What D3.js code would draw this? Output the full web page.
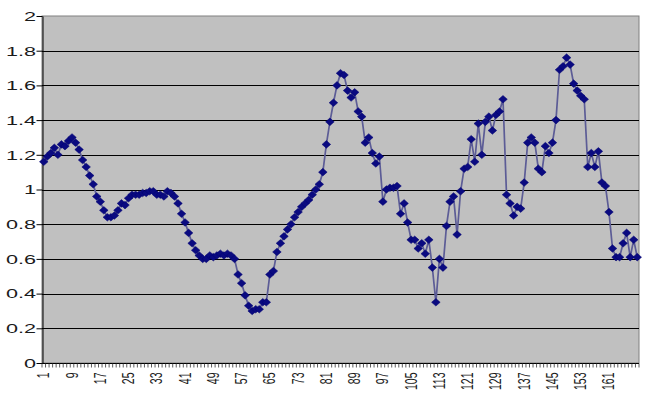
<!DOCTYPE html>
<html>
<head>
<meta charset="utf-8">
<script src="https://cdn.jsdelivr.net/npm/d3@7"></script>
<style>
  body { margin: 0; background: #fff; }
  svg { display: block; font-family: "Liberation Sans", Arial, sans-serif; }
</style>
</head>
<body>
<div id="chart"></div>
<script>
// values, one per category (1..169)
var values = [
  1.16, 1.19, 1.21, 1.24, 1.20, 1.26, 1.25, 1.28, 1.30, 1.27,
  1.23, 1.17, 1.13, 1.08, 1.03, 0.96, 0.93, 0.88, 0.84, 0.84,
  0.85, 0.88, 0.92, 0.91, 0.95, 0.97, 0.97, 0.97, 0.98, 0.98,
  0.99, 0.99, 0.97, 0.97, 0.96, 0.99, 0.98, 0.96, 0.92, 0.86,
  0.81, 0.75, 0.69, 0.65, 0.62, 0.60, 0.60, 0.62, 0.61, 0.62,
  0.63, 0.62, 0.63, 0.62, 0.60, 0.51, 0.46, 0.39, 0.33, 0.30,
  0.31, 0.31, 0.35, 0.35, 0.51, 0.53, 0.64, 0.69, 0.73, 0.77,
  0.80, 0.84, 0.87, 0.90, 0.92, 0.94, 0.97, 1.00, 1.03, 1.10,
  1.26, 1.39, 1.50, 1.60, 1.67, 1.66, 1.57, 1.53, 1.56, 1.45,
  1.42, 1.27, 1.30, 1.21, 1.15, 1.19, 0.93, 1.00, 1.01, 1.01,
  1.02, 0.86, 0.92, 0.81, 0.71, 0.71, 0.66, 0.69, 0.63, 0.71,
  0.55, 0.35, 0.60, 0.55, 0.79, 0.93, 0.96, 0.74, 0.99, 1.12,
  1.13, 1.29, 1.16, 1.38, 1.20, 1.39, 1.42, 1.34, 1.43, 1.45,
  1.52, 0.97, 0.92, 0.85, 0.90, 0.89, 1.04, 1.27, 1.30, 1.27,
  1.12, 1.10, 1.25, 1.21, 1.27, 1.40, 1.69, 1.71, 1.76, 1.72,
  1.61, 1.57, 1.54, 1.52, 1.13, 1.21, 1.13, 1.22, 1.04, 1.02,
  0.87, 0.66, 0.61, 0.61, 0.69, 0.75, 0.61, 0.71, 0.61
];
var categories = values.map(function(d, i) { return i + 1; });
var xTickLabels = [1, 9, 17, 25, 33, 41, 49, 57, 65, 73, 81, 89, 97, 105, 113, 121, 129, 137, 145, 153, 161];
var yTicks = [0, 0.2, 0.4, 0.6, 0.8, 1, 1.2, 1.4, 1.6, 1.8, 2];

// set the dimensions
var W = 651, H = 399
  , margin = {top: 16, right: 12, bottom: 36, left: 42}
  , width = W - margin.left - margin.right
  , height = H - margin.top - margin.bottom;

var svg = d3.select("#chart").append("svg")
    .attr("width", W)
    .attr("height", H)
  .append("g")
    .attr("transform", "translate(" + margin.left + "," + margin.top + ")");

var x = d3.scaleBand().domain(categories).range([0, width]).padding(0);
var y = d3.scaleLinear().domain([0, 2]).range([height, 0]);
var cx = function(c) { return x(c) + x.bandwidth() / 2; };

// plot area
svg.append("rect")
    .attr("width", width)
    .attr("height", height)
    .attr("fill", "#c0c0c0")
    .attr("stroke", "#808080");

// gridlines
svg.append("g")
  .selectAll("line")
  .data(yTicks.filter(function(d) { return d > 0 && d < 2; }))
  .enter().append("line")
    .attr("x1", 0)
    .attr("x2", width)
    .attr("y1", function(d) { return Math.round(y(d)) + 0.5; })
    .attr("y2", function(d) { return Math.round(y(d)) + 0.5; })
    .attr("stroke", "#000")
    .attr("stroke-width", 1);

// y axis
var yAxis = svg.append("g")
    .attr("transform", "translate(0.5,0)")
    .call(d3.axisLeft(y).tickValues(yTicks).tickSize(6).tickSizeOuter(0)
      .tickFormat(function(d) { return String(d); }));
yAxis.select(".domain").attr("stroke", "#000");
yAxis.selectAll(".tick line").attr("stroke", "#000");
yAxis.selectAll("text")
    .attr("x", -4)
    .attr("transform", "scale(1.6,1)")
    .attr("font-size", 13.5)
    .attr("fill", "#1a1a1a");

// x axis: small tick at every category boundary
var xAxis = svg.append("g")
    .attr("transform", "translate(0," + (height + 0.5) + ")");
xAxis.append("line")
    .attr("x1", 0).attr("x2", width)
    .attr("stroke", "#000");
xAxis.selectAll(".minor")
  .data(categories.concat([categories.length + 1]))
  .enter().append("line")
    .attr("class", "minor")
    .attr("x1", function(d) { return x(d) === undefined ? width : x(d); })
    .attr("x2", function(d) { return x(d) === undefined ? width : x(d); })
    .attr("y1", 0)
    .attr("y2", 4)
    .attr("stroke", "#333")
    .attr("stroke-width", 0.8);

xAxis.append("g")
    .call(d3.axisBottom(x).tickValues(xTickLabels).tickSize(0))
  .call(function(g) { g.select(".domain").remove(); })
  .selectAll("text")
    .attr("x", 0)
    .attr("y", 0)
    .attr("dy", "0.35em")
    .attr("text-anchor", "end")
    .attr("transform", "translate(0,9) scale(1.5,1) rotate(-90)")
    .attr("font-size", 10.5)
    .attr("fill", "#1a1a1a");

// series line
var line = d3.line()
    .x(function(d, i) { return cx(categories[i]); })
    .y(function(d) { return y(d); });

svg.append("path")
    .datum(values)
    .attr("fill", "none")
    .attr("stroke", "#5c5c96")
    .attr("stroke-width", 1.7)
    .attr("d", line);

// diamond markers
svg.append("g")
  .selectAll("path")
  .data(values)
  .enter().append("path")
    .attr("d", "M0,-3.8L4.3,0L0,3.8L-4.3,0Z")
    .attr("transform", function(d, i) {
      return "translate(" + cx(categories[i]) + "," + y(d) + ")";
    })
    .attr("fill", "#0a0a80")
    .attr("stroke", "#000070")
    .attr("stroke-width", 0.5);
</script>
</body>
</html>
